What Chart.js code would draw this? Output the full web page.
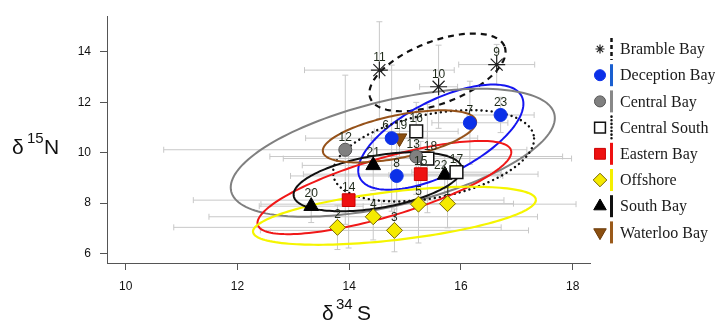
<!DOCTYPE html>
<html><head><meta charset="utf-8">
<script src="https://cdn.jsdelivr.net/npm/chart.js@4.4.1/dist/chart.umd.min.js"></script>
<style>html,body{margin:0;padding:0;background:#fff;}#wrap{width:715px;height:323px;position:relative;}</style>
</head><body><div id="wrap"><canvas id="c" width="715" height="323"></canvas></div>
<script>
// ---- data ----
const groupNames = ['Bramble Bay','Deception Bay','Central Bay','Central South','Eastern Bay','Offshore','South Bay','Waterloo Bay'];

const brambleIds = [11,10,9];
const brambleX = [14.54,15.60,16.64];
const brambleY = [13.28,12.62,13.50];
const brambleXErr = [1.34,0.34,0.68];
const brambleYErr = [1.92,1.65,0.80];

const deceptionIds = [23,7,6,8];
const deceptionX = [16.71,16.16,14.76,14.85];
const deceptionY = [11.50,11.19,10.58,9.08];
const deceptionXErr = [0.60,0.68,1.54,1.90];
const deceptionYErr = [0.70,1.65,2.90,1.50];

const centralIds = [12,13];
const centralX = [13.93,15.20];
const centralY = [10.12,9.85];
const centralXErr = [3.25,2.62];
const centralYErr = [2.96,1.50];

const centralSouthIds = [16,18,17];
const centralSouthX = [15.20,15.40,15.92];
const centralSouthY = [10.85,9.77,9.23];
const centralSouthXErr = [0.75,2.58,0.80];
const centralSouthYErr = [1.15,2.15,0.60];

const easternIds = [14,15];
const easternX = [13.99,15.28];
const easternY = [8.12,9.15];
const easternXErr = [2.78,2.10];
const easternYErr = [1.90,1.30];

const offshoreIds = [2,4,3,5,1];
const offshoreX = [13.79,14.43,14.81,15.24,15.76];
const offshoreY = [7.04,7.46,6.92,7.96,7.98];
const offshoreXErr = [2.93,2.94,2.40,2.82,1.18];
const offshoreYErr = [0.88,0.92,0.85,1.54,0.96];

const southIds = [20,21,22];
const southX = [13.32,14.43,15.71];
const southY = [7.88,9.50,9.12];
const southXErr = [0.93,1.27,1.00];
const southYErr = [0.65,1.00,0.80];

const waterlooIds = [19];
const waterlooX = [14.90];
const waterlooY = [10.58];
const waterlooXErr = [0.50];
const waterlooYErr = [0.80];

// ellipses (centre and conjugate semi-diameters, data units), same order as groupNames
const ellipseCx = [15.58,15.64,14.78,15.51,14.63,14.81,14.51,14.90];
const ellipseCy = [13.19,10.62,10.00,9.88,8.62,7.50,8.85,10.65];
const ellipseUx = [1.199,1.443,2.891,1.792,2.266,2.531,1.503,1.370];
const ellipseUy = [1.038,1.642,1.546,0.815,1.485,0.646,0.569,0.623];
const ellipseVx = [-0.215,-0.320,-0.235,-0.160,-0.158,-0.053,-0.084,-0.083];
const ellipseVy = [1.141,1.291,2.015,1.619,1.104,0.954,1.023,0.827];

const xTicks = [10,12,14,16,18];
const yTicks = [6,8,10,12,14];

// ---- styles ----
const groupData = [
  [brambleIds,brambleX,brambleY,brambleXErr,brambleYErr],
  [deceptionIds,deceptionX,deceptionY,deceptionXErr,deceptionYErr],
  [centralIds,centralX,centralY,centralXErr,centralYErr],
  [centralSouthIds,centralSouthX,centralSouthY,centralSouthXErr,centralSouthYErr],
  [easternIds,easternX,easternY,easternXErr,easternYErr],
  [offshoreIds,offshoreX,offshoreY,offshoreXErr,offshoreYErr],
  [southIds,southX,southY,southXErr,southYErr],
  [waterlooIds,waterlooX,waterlooY,waterlooXErr,waterlooYErr]
];
const markerStyles = [
  {pointStyle:'star', radius:8.5, rotation:0, backgroundColor:'#000', borderColor:'#222', borderWidth:1.2},
  {pointStyle:'circle', radius:6.5, rotation:0, backgroundColor:'#0b30e8', borderColor:'#0b30e8', borderWidth:1},
  {pointStyle:'circle', radius:6.5, rotation:0, backgroundColor:'#808080', borderColor:'#555', borderWidth:1},
  {pointStyle:'rect', radius:9, rotation:0, backgroundColor:'#fff', borderColor:'#111', borderWidth:1.5},
  {pointStyle:'rect', radius:9, rotation:0, backgroundColor:'#ee1111', borderColor:'#cc0000', borderWidth:1},
  {pointStyle:'rectRot', radius:8, rotation:0, backgroundColor:'#f5ea00', borderColor:'#776600', borderWidth:1},
  {pointStyle:'triangle', radius:8.5, rotation:0, backgroundColor:'#000', borderColor:'#000', borderWidth:1},
  {pointStyle:'triangle', radius:8.5, rotation:180, backgroundColor:'#8b4f10', borderColor:'#6b3a08', borderWidth:1}
];
const ellipseStyles = [
  {color:'#111', width:2.2, dash:[6,5], cap:'butt'},
  {color:'#1515f0', width:2, dash:[], cap:'butt'},
  {color:'#808080', width:2, dash:[], cap:'butt'},
  {color:'#111', width:2.4, dash:[0.1,5], cap:'round'},
  {color:'#f01818', width:2, dash:[], cap:'butt'},
  {color:'#f5f500', width:2.2, dash:[], cap:'butt'},
  {color:'#111', width:2, dash:[], cap:'butt'},
  {color:'#96521a', width:2, dash:[], cap:'butt'}
];
const legendLineStyles = [
  {color:'#111', width:2.5, dash:[4,3], cap:'butt'},
  {color:'#1a5fd0', width:3, dash:[], cap:'butt'},
  {color:'#888', width:3, dash:[], cap:'butt'},
  {color:'#111', width:2.5, dash:[0.1,3.5], cap:'round'},
  {color:'#ee1111', width:3, dash:[], cap:'butt'},
  {color:'#f5f000', width:3, dash:[], cap:'butt'},
  {color:'#111', width:3, dash:[], cap:'butt'},
  {color:'#9a5a1a', width:3, dash:[], cap:'butt'}
];
const labelNudge = {6:[-6,0],19:[1,0],22:[-4,3],13:[-3,0],18:[3,0]};

const datasets = groupData.map((g,gi)=>({
  label: groupNames[gi],
  data: g[1].map((x,i)=>({x:x, y:g[2][i]})),
  pointStyle: markerStyles[gi].pointStyle,
  pointRadius: markerStyles[gi].radius,
  pointRotation: markerStyles[gi].rotation,
  pointBackgroundColor: markerStyles[gi].backgroundColor,
  pointBorderColor: markerStyles[gi].borderColor,
  pointBorderWidth: markerStyles[gi].borderWidth,
  pointHoverRadius: markerStyles[gi].radius,
  showLine:false
}));

const underlay = {
  id:'underlay',
  beforeDatasetsDraw(chart){
    const ctx = chart.ctx, xs = chart.scales.x, ys = chart.scales.y;
    ctx.save();
    // error bars
    ctx.strokeStyle = '#c8c8c8'; ctx.lineWidth = 1;
    groupData.forEach(g=>{
      g[1].forEach((x,i)=>{
        const y = g[2][i];
        const px = xs.getPixelForValue(x), py = ys.getPixelForValue(y);
        const x0 = xs.getPixelForValue(x-g[3][i]), x1 = xs.getPixelForValue(x+g[3][i]);
        const y0 = ys.getPixelForValue(y-g[4][i]), y1 = ys.getPixelForValue(y+g[4][i]);
        ctx.beginPath();
        ctx.moveTo(x0,py); ctx.lineTo(x1,py);
        ctx.moveTo(x0,py-3); ctx.lineTo(x0,py+3);
        ctx.moveTo(x1,py-3); ctx.lineTo(x1,py+3);
        ctx.moveTo(px,y0); ctx.lineTo(px,y1);
        ctx.moveTo(px-3,y0); ctx.lineTo(px+3,y0);
        ctx.moveTo(px-3,y1); ctx.lineTo(px+3,y1);
        ctx.stroke();
      });
    });
    // ellipses
    ellipseCx.forEach((cx,i)=>{
      const st = ellipseStyles[i];
      ctx.strokeStyle = st.color; ctx.lineWidth = st.width; ctx.setLineDash(st.dash); ctx.lineCap = st.cap;
      ctx.beginPath();
      const n = 160;
      for(let k=0;k<=n;k++){
        const t = k/n*2*Math.PI;
        const dx = cx + ellipseUx[i]*Math.cos(t) + ellipseVx[i]*Math.sin(t);
        const dy = ellipseCy[i] + ellipseUy[i]*Math.cos(t) + ellipseVy[i]*Math.sin(t);
        const px = xs.getPixelForValue(dx), py = ys.getPixelForValue(dy);
        if(k===0) ctx.moveTo(px,py); else ctx.lineTo(px,py);
      }
      ctx.stroke();
    });
    ctx.restore();
  },
  afterDatasetsDraw(chart){
    const ctx = chart.ctx, xs = chart.scales.x, ys = chart.scales.y;
    ctx.save();
    ctx.font = '12px "Liberation Sans", Arial, sans-serif';
    ctx.fillStyle = '#1f2a1a'; ctx.textAlign='center'; ctx.textBaseline='alphabetic';
    groupData.forEach(g=>{
      g[0].forEach((id,i)=>{
        const px = xs.getPixelForValue(g[1][i]), py = ys.getPixelForValue(g[2][i]);
        const nd = labelNudge[id] || [0,0];
        ctx.fillText(String(id), px+nd[0], py-9+nd[1]);
      });
    });
    // axis titles
    ctx.fillStyle = '#111'; ctx.textAlign='left';
    ctx.font = '21px "Liberation Sans", Arial, sans-serif';
    ctx.fillText('δ', 12, 154);
    ctx.fillText('N', 44, 154);
    ctx.font = '15px "Liberation Sans", Arial, sans-serif';
    ctx.fillText('15', 27, 143);
    ctx.font = '21px "Liberation Sans", Arial, sans-serif';
    ctx.fillText('δ', 322, 320);
    ctx.fillText('S', 357, 320);
    ctx.font = '15px "Liberation Sans", Arial, sans-serif';
    ctx.fillText('34', 336, 309);
    // legend
    groupNames.forEach((name,i)=>{
      const cy = 49 + 26.2*i;
      const m = markerStyles[i];
      ctx.fillStyle = m.backgroundColor; ctx.strokeStyle = m.borderColor; ctx.lineWidth = m.borderWidth;
      ctx.setLineDash([]); ctx.lineCap='butt';
      let r = m.radius*0.85;
      if(i===0) r = 4.5;
      Chart.helpers.drawPoint(ctx,{pointStyle:m.pointStyle, radius:r, rotation:m.rotation, borderWidth:m.borderWidth}, 600, cy);
      const ls = legendLineStyles[i];
      ctx.strokeStyle = ls.color; ctx.lineWidth = ls.width; ctx.setLineDash(ls.dash); ctx.lineCap = ls.cap;
      ctx.beginPath(); ctx.moveTo(611.5, cy-11); ctx.lineTo(611.5, cy+11); ctx.stroke();
      ctx.setLineDash([]);
      ctx.fillStyle = '#1a1a1a';
      ctx.font = '16px "Liberation Serif", "Times New Roman", serif';
      ctx.textBaseline = 'middle';
      ctx.fillText(name, 620, cy+1);
      ctx.textBaseline = 'alphabetic';
    });
    ctx.restore();
  }
};

new Chart(document.getElementById('c'), {
  type:'scatter',
  data:{datasets},
  options:{
    responsive:false, animation:false, devicePixelRatio:1,
    layout:{padding:{left:0,right:125,top:10,bottom:0}},
    plugins:{legend:{display:false}, tooltip:{enabled:false}},
    scales:{
      x:{type:'linear', min:9.665, max:18.31,
        afterBuildTicks(s){ s.ticks = xTicks.map(v=>({value:v})); },
        afterFit(s){ s.height = 60; },
        grid:{drawOnChartArea:false, drawTicks:true, tickLength:7, color:'#555'},
        border:{display:true, color:'#555', width:1},
        ticks:{color:'#111', padding:9, font:{family:'"Liberation Sans", Arial, sans-serif', size:12}}
      },
      y:{type:'linear', min:5.625, max:15.42,
        afterBuildTicks(s){ s.ticks = yTicks.map(v=>({value:v})); },
        afterFit(s){ s.width = 107; },
        grid:{drawOnChartArea:false, drawTicks:true, tickLength:7, color:'#555'},
        border:{display:true, color:'#555', width:1},
        ticks:{color:'#111', padding:9, font:{family:'"Liberation Sans", Arial, sans-serif', size:12}}
      }
    }
  },
  plugins:[underlay]
});
</script></body></html>
